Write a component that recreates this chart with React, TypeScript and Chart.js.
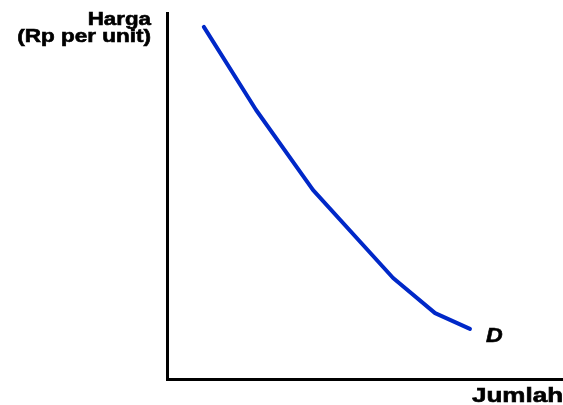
import React, { useEffect, useRef } from "react";
import { Chart, registerables } from "chart.js";

Chart.register(...registerables);

const quantity = [9.3, 22.5, 36.9, 57.1, 67.7, 76.5];
const price = [96.2, 73.5, 51.6, 27.6, 18.0, 13.7];
const yTitleLines = ["Harga", "(Rp per unit)"];
const xTitle = "Jumlah";
const curveLabel = "D";

const labelPlugin = {
  id: "econLabels",
  afterDraw(chart: any) {
    const { ctx, chartArea } = chart;
    const drawStretched = (text: string, x: number, y: number, font: string, align: "left" | "right", sx: number) => {
      ctx.save();
      ctx.font = font;
      ctx.fillStyle = "#000";
      ctx.strokeStyle = "#000";
      ctx.lineWidth = 0.6;
      ctx.textBaseline = "alphabetic";
      ctx.textAlign = align;
      ctx.translate(x, y);
      ctx.scale(sx, 1);
      ctx.fillText(text, 0, 0);
      ctx.strokeText(text, 0, 0);
      ctx.restore();
    };
    const f = 'bold 18px "Liberation Sans", Arial, sans-serif';
    drawStretched(yTitleLines[0], chartArea.left - 16, chartArea.top + 12, f, "right", 1.24);
    drawStretched(yTitleLines[1], chartArea.left - 16, chartArea.top + 29, f, "right", 1.25);
    drawStretched(xTitle, chartArea.left + 305, chartArea.bottom + 23, 'bold 20px "Liberation Sans", Arial, sans-serif', "left", 1.3);
    const meta = chart.getDatasetMeta(0);
    const last = meta.data[meta.data.length - 1];
    drawStretched(curveLabel, last.x + 16, last.y + 13, 'italic bold 21px "Liberation Sans", Arial, sans-serif', "left", 1.1);
  },
};

export default function App() {
  const ref = useRef<HTMLCanvasElement | null>(null);
  useEffect(() => {
    if (!ref.current) return;
    const chart = new Chart(ref.current, {
      type: "scatter",
      data: {
        datasets: [
          {
            data: quantity.map((q, i) => ({ x: q, y: price[i] })),
            showLine: true,
            borderColor: "rgb(0, 40, 200)",
            borderWidth: 4,
            borderCapStyle: "round",
            borderJoinStyle: "round",
            pointRadius: 0,
            tension: 0,
          },
        ],
      },
      options: {
        animation: false,
        responsive: false,
        layout: { padding: { left: 167, right: 0, top: 13, bottom: 26 } },
        plugins: { legend: { display: false }, tooltip: { enabled: false } },
        scales: {
          x: {
            type: "linear",
            min: 0,
            max: 100,
            grid: { display: false, drawTicks: false, tickLength: 0 },
            ticks: { display: false },
            border: { display: true, color: "#000", width: 3 },
          },
          y: {
            type: "linear",
            min: 0,
            max: 100,
            grid: { display: false, drawTicks: false, tickLength: 0 },
            ticks: { display: false },
            border: { display: true, color: "#000", width: 3 },
          },
        },
      },
      plugins: [labelPlugin],
    });
    return () => chart.destroy();
  }, []);
  return (
    <div style={{ position: "fixed", left: 0, top: 0, width: 563, height: 405, background: "#fff" }}>
      <canvas ref={ref} width={563} height={405} style={{ width: 563, height: 405, display: "block" }} />
    </div>
  );
}
